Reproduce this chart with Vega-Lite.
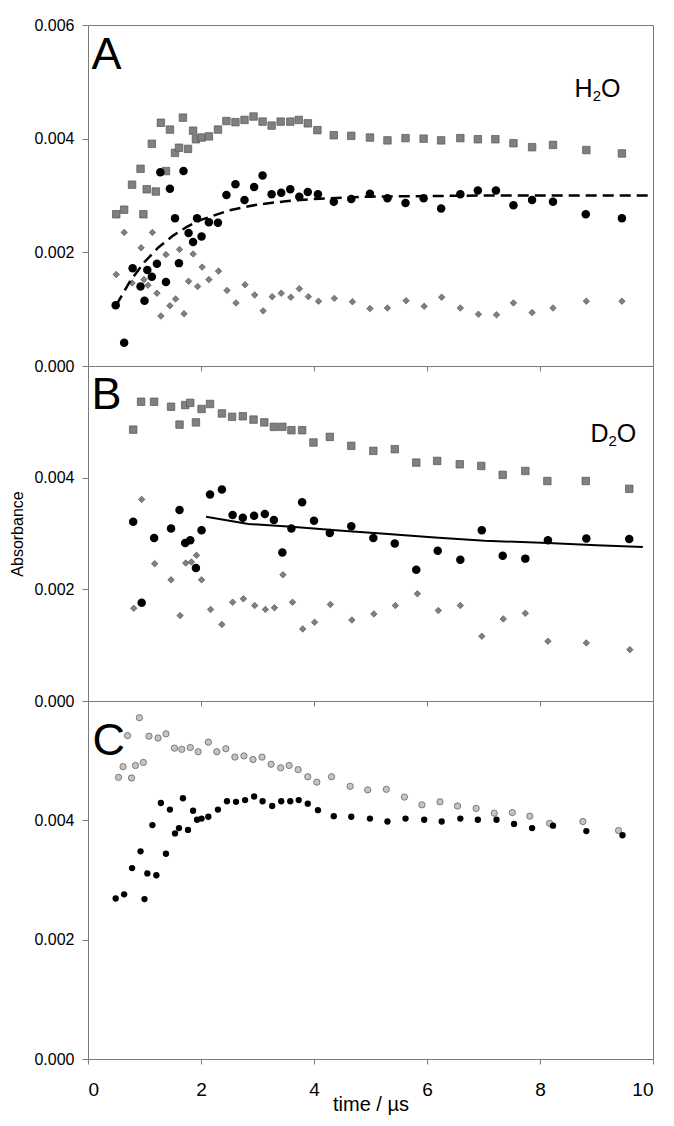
{
  "$schema": "https://vega.github.io/schema/vega-lite/v6.json",
  "padding": {"left": 9, "top": 16, "right": 20, "bottom": 4},
  "spacing": 0,
  "bounds": "flush",
  "config": {
    "font": "Liberation Sans",
    "view": {"stroke": "#7a7a7a", "strokeWidth": 1},
    "axis": {"grid": false, "domainColor": "#7a7a7a", "tickColor": "#7a7a7a", "labelColor": "#000", "titleColor": "#000", "labelFont": "Liberation Sans", "titleFont": "Liberation Sans", "titleFontWeight": "normal"}
  },
  "datasets": {
    "A_sq": [
      {"t":0.50,"v":0.00267},{"t":0.64,"v":0.00275},{"t":0.78,"v":0.00319},{"t":0.93,"v":0.00347},{"t":0.98,"v":0.00267},{"t":1.04,"v":0.00311},{"t":1.13,"v":0.00391},{"t":1.20,"v":0.00307},{"t":1.29,"v":0.00428},{"t":1.38,"v":0.00343},{"t":1.45,"v":0.00416},{"t":1.54,"v":0.00375},{"t":1.61,"v":0.00384},{"t":1.68,"v":0.00437},{"t":1.77,"v":0.00382},{"t":1.86,"v":0.00414},{"t":1.91,"v":0.00399},{"t":2.01,"v":0.00402},{"t":2.14,"v":0.00404},{"t":2.30,"v":0.00416},{"t":2.45,"v":0.00431},{"t":2.61,"v":0.00429},{"t":2.77,"v":0.00433},{"t":2.93,"v":0.00439},{"t":3.09,"v":0.00430},{"t":3.25,"v":0.00423},{"t":3.41,"v":0.00430},{"t":3.58,"v":0.00430},{"t":3.73,"v":0.00433},{"t":3.89,"v":0.00427},{"t":4.06,"v":0.00415},{"t":4.35,"v":0.00406},{"t":4.66,"v":0.00405},{"t":4.99,"v":0.00402},{"t":5.30,"v":0.00397},{"t":5.62,"v":0.00401},{"t":5.94,"v":0.00400},{"t":6.25,"v":0.00397},{"t":6.59,"v":0.00401},{"t":6.90,"v":0.00399},{"t":7.21,"v":0.00399},{"t":7.53,"v":0.00392},{"t":7.86,"v":0.00385},{"t":8.23,"v":0.00389},{"t":8.82,"v":0.00380},{"t":9.45,"v":0.00374}
    ],
    "A_ci": [
      {"t":0.49,"v":0.00107},{"t":0.64,"v":0.00041},{"t":0.79,"v":0.00172},{"t":0.93,"v":0.00140},{"t":1.00,"v":0.00115},{"t":1.05,"v":0.00169},{"t":1.13,"v":0.00157},{"t":1.22,"v":0.00180},{"t":1.28,"v":0.00341},{"t":1.38,"v":0.00148},{"t":1.45,"v":0.00312},{"t":1.54,"v":0.00260},{"t":1.61,"v":0.00181},{"t":1.69,"v":0.00343},{"t":1.78,"v":0.00234},{"t":1.86,"v":0.00218},{"t":1.93,"v":0.00260},{"t":2.01,"v":0.00228},{"t":2.14,"v":0.00253},{"t":2.30,"v":0.00252},{"t":2.45,"v":0.00301},{"t":2.61,"v":0.00320},{"t":2.77,"v":0.00292},{"t":2.94,"v":0.00315},{"t":3.09,"v":0.00335},{"t":3.25,"v":0.00302},{"t":3.42,"v":0.00305},{"t":3.58,"v":0.00311},{"t":3.74,"v":0.00298},{"t":3.89,"v":0.00306},{"t":4.07,"v":0.00302},{"t":4.35,"v":0.00289},{"t":4.66,"v":0.00294},{"t":4.99,"v":0.00303},{"t":5.30,"v":0.00295},{"t":5.62,"v":0.00287},{"t":5.94,"v":0.00295},{"t":6.25,"v":0.00277},{"t":6.59,"v":0.00302},{"t":6.90,"v":0.00309},{"t":7.22,"v":0.00309},{"t":7.53,"v":0.00283},{"t":7.86,"v":0.00292},{"t":8.23,"v":0.00289},{"t":8.81,"v":0.00267},{"t":9.45,"v":0.00260}
    ],
    "A_di": [
      {"t":0.50,"v":0.00161},{"t":0.64,"v":0.00235},{"t":0.78,"v":0.00146},{"t":0.94,"v":0.00208},{"t":0.99,"v":0.00152},{"t":1.06,"v":0.00142},{"t":1.14,"v":0.00235},{"t":1.22,"v":0.00128},{"t":1.29,"v":0.00088},{"t":1.38,"v":0.00196},{"t":1.45,"v":0.00106},{"t":1.55,"v":0.00118},{"t":1.62,"v":0.00205},{"t":1.70,"v":0.00092},{"t":1.78,"v":0.00149},{"t":1.86,"v":0.00197},{"t":1.94,"v":0.00140},{"t":2.02,"v":0.00174},{"t":2.14,"v":0.00152},{"t":2.31,"v":0.00167},{"t":2.46,"v":0.00133},{"t":2.62,"v":0.00111},{"t":2.78,"v":0.00143},{"t":2.95,"v":0.00125},{"t":3.10,"v":0.00097},{"t":3.26,"v":0.00122},{"t":3.42,"v":0.00128},{"t":3.59,"v":0.00121},{"t":3.74,"v":0.00136},{"t":3.90,"v":0.00122},{"t":4.08,"v":0.00114},{"t":4.36,"v":0.00119},{"t":4.68,"v":0.00113},{"t":4.99,"v":0.00101},{"t":5.30,"v":0.00102},{"t":5.63,"v":0.00115},{"t":5.95,"v":0.00105},{"t":6.26,"v":0.00121},{"t":6.59,"v":0.00102},{"t":6.91,"v":0.00091},{"t":7.23,"v":0.00090},{"t":7.53,"v":0.00111},{"t":7.86,"v":0.00094},{"t":8.23,"v":0.00102},{"t":8.82,"v":0.00114},{"t":9.45,"v":0.00114}
    ],
    "A_fit": [
      {"t":0.5,"v":0.00107},{"t":0.75,"v":0.00150},{"t":1.0,"v":0.00183},{"t":1.25,"v":0.00209},{"t":1.5,"v":0.00229},{"t":1.75,"v":0.00245},{"t":2.0,"v":0.00257},{"t":2.5,"v":0.00274},{"t":3.0,"v":0.00284},{"t":3.5,"v":0.00290},{"t":4.0,"v":0.00294},{"t":5.0,"v":0.00298},{"t":6.0,"v":0.00299},{"t":7.0,"v":0.00300},{"t":8.0,"v":0.00300},{"t":10.0,"v":0.00300}
    ],
    "B_sq": [
      {"t":0.80,"v":0.00486},{"t":0.94,"v":0.00536},{"t":1.17,"v":0.00536},{"t":1.47,"v":0.00527},{"t":1.62,"v":0.00495},{"t":1.72,"v":0.00530},{"t":1.81,"v":0.00534},{"t":1.91,"v":0.00499},{"t":2.01,"v":0.00523},{"t":2.16,"v":0.00532},{"t":2.37,"v":0.00515},{"t":2.55,"v":0.00509},{"t":2.74,"v":0.00510},{"t":2.93,"v":0.00504},{"t":3.12,"v":0.00499},{"t":3.29,"v":0.00491},{"t":3.44,"v":0.00491},{"t":3.60,"v":0.00485},{"t":3.79,"v":0.00485},{"t":3.99,"v":0.00463},{"t":4.28,"v":0.00473},{"t":4.66,"v":0.00457},{"t":5.05,"v":0.00448},{"t":5.43,"v":0.00451},{"t":5.81,"v":0.00427},{"t":6.18,"v":0.00430},{"t":6.58,"v":0.00424},{"t":6.96,"v":0.00421},{"t":7.34,"v":0.00405},{"t":7.74,"v":0.00412},{"t":8.13,"v":0.00394},{"t":8.81,"v":0.00394},{"t":9.58,"v":0.00380}
    ],
    "B_ci": [
      {"t":0.80,"v":0.00321},{"t":0.95,"v":0.00176},{"t":1.17,"v":0.00292},{"t":1.47,"v":0.00309},{"t":1.62,"v":0.00342},{"t":1.72,"v":0.00283},{"t":1.81,"v":0.00288},{"t":1.91,"v":0.00238},{"t":2.01,"v":0.00306},{"t":2.16,"v":0.00370},{"t":2.37,"v":0.00379},{"t":2.56,"v":0.00333},{"t":2.74,"v":0.00328},{"t":2.94,"v":0.00332},{"t":3.13,"v":0.00335},{"t":3.29,"v":0.00324},{"t":3.44,"v":0.00266},{"t":3.60,"v":0.00309},{"t":3.79,"v":0.00356},{"t":4.00,"v":0.00323},{"t":4.28,"v":0.00301},{"t":4.66,"v":0.00313},{"t":5.05,"v":0.00292},{"t":5.43,"v":0.00282},{"t":5.81,"v":0.00235},{"t":6.19,"v":0.00269},{"t":6.59,"v":0.00253},{"t":6.97,"v":0.00306},{"t":7.34,"v":0.00260},{"t":7.74,"v":0.00255},{"t":8.14,"v":0.00288},{"t":8.82,"v":0.00291},{"t":9.58,"v":0.00290}
    ],
    "B_di": [
      {"t":0.81,"v":0.00166},{"t":0.95,"v":0.00361},{"t":1.18,"v":0.00246},{"t":1.47,"v":0.00217},{"t":1.63,"v":0.00153},{"t":1.73,"v":0.00247},{"t":1.83,"v":0.00249},{"t":1.92,"v":0.00261},{"t":2.01,"v":0.00217},{"t":2.17,"v":0.00164},{"t":2.37,"v":0.00137},{"t":2.56,"v":0.00177},{"t":2.75,"v":0.00183},{"t":2.95,"v":0.00171},{"t":3.14,"v":0.00164},{"t":3.30,"v":0.00167},{"t":3.45,"v":0.00226},{"t":3.62,"v":0.00177},{"t":3.80,"v":0.00129},{"t":4.01,"v":0.00141},{"t":4.29,"v":0.00173},{"t":4.67,"v":0.00145},{"t":5.06,"v":0.00156},{"t":5.44,"v":0.00171},{"t":5.83,"v":0.00192},{"t":6.20,"v":0.00162},{"t":6.59,"v":0.00171},{"t":6.97,"v":0.00116},{"t":7.35,"v":0.00147},{"t":7.74,"v":0.00157},{"t":8.14,"v":0.00107},{"t":8.82,"v":0.00104},{"t":9.59,"v":0.00092}
    ],
    "B_fit": [
      {"t":2.09,"v":0.00330},{"t":2.84,"v":0.00317},{"t":3.6,"v":0.00312},{"t":4.5,"v":0.00305},{"t":5.19,"v":0.00300},{"t":6.14,"v":0.00293},{"t":7.02,"v":0.00287},{"t":8.14,"v":0.00283},{"t":9.0,"v":0.00279},{"t":9.82,"v":0.00276}
    ],
    "C_gray": [
      {"t":0.54,"v":0.00472},{"t":0.62,"v":0.00490},{"t":0.70,"v":0.00542},{"t":0.77,"v":0.00471},{"t":0.84,"v":0.00492},{"t":0.91,"v":0.00572},{"t":0.98,"v":0.00497},{"t":1.08,"v":0.00541},{"t":1.24,"v":0.00538},{"t":1.38,"v":0.00545},{"t":1.53,"v":0.00521},{"t":1.66,"v":0.00519},{"t":1.81,"v":0.00522},{"t":1.95,"v":0.00515},{"t":2.13,"v":0.00531},{"t":2.28,"v":0.00515},{"t":2.44,"v":0.00520},{"t":2.60,"v":0.00506},{"t":2.76,"v":0.00508},{"t":2.92,"v":0.00502},{"t":3.08,"v":0.00506},{"t":3.24,"v":0.00494},{"t":3.41,"v":0.00488},{"t":3.56,"v":0.00492},{"t":3.72,"v":0.00485},{"t":3.89,"v":0.00473},{"t":4.05,"v":0.00464},{"t":4.31,"v":0.00473},{"t":4.64,"v":0.00457},{"t":4.95,"v":0.00451},{"t":5.28,"v":0.00452},{"t":5.60,"v":0.00439},{"t":5.91,"v":0.00426},{"t":6.23,"v":0.00431},{"t":6.54,"v":0.00424},{"t":6.87,"v":0.00420},{"t":7.19,"v":0.00412},{"t":7.51,"v":0.00413},{"t":7.82,"v":0.00407},{"t":8.17,"v":0.00395},{"t":8.76,"v":0.00398},{"t":9.39,"v":0.00383}
    ],
    "C_black": [
      {"t":0.49,"v":0.00269},{"t":0.64,"v":0.00276},{"t":0.78,"v":0.00320},{"t":0.93,"v":0.00348},{"t":1.00,"v":0.00268},{"t":1.05,"v":0.00311},{"t":1.14,"v":0.00392},{"t":1.21,"v":0.00308},{"t":1.29,"v":0.00429},{"t":1.38,"v":0.00344},{"t":1.45,"v":0.00418},{"t":1.54,"v":0.00378},{"t":1.61,"v":0.00387},{"t":1.68,"v":0.00437},{"t":1.77,"v":0.00384},{"t":1.86,"v":0.00416},{"t":1.93,"v":0.00401},{"t":2.01,"v":0.00403},{"t":2.13,"v":0.00406},{"t":2.30,"v":0.00418},{"t":2.46,"v":0.00432},{"t":2.62,"v":0.00431},{"t":2.78,"v":0.00434},{"t":2.94,"v":0.00440},{"t":3.09,"v":0.00432},{"t":3.26,"v":0.00424},{"t":3.42,"v":0.00432},{"t":3.58,"v":0.00432},{"t":3.73,"v":0.00434},{"t":3.89,"v":0.00428},{"t":4.07,"v":0.00417},{"t":4.35,"v":0.00407},{"t":4.66,"v":0.00406},{"t":4.99,"v":0.00403},{"t":5.30,"v":0.00398},{"t":5.62,"v":0.00403},{"t":5.95,"v":0.00401},{"t":6.26,"v":0.00398},{"t":6.59,"v":0.00403},{"t":6.90,"v":0.00401},{"t":7.23,"v":0.00401},{"t":7.54,"v":0.00394},{"t":7.86,"v":0.00387},{"t":8.23,"v":0.00391},{"t":8.82,"v":0.00382},{"t":9.46,"v":0.00375}
    ]
  },
  "vconcat": [
    {
      "width": 565, "height": 341,
      "encoding": {
        "x": {"field": "t", "type": "quantitative", "scale": {"domain": [0, 10], "nice": false}, "axis": {"values": [0,2,4,6,8,10], "labels": false, "title": null, "tickSize": 5, "domain": false}},
        "y": {"field": "v", "type": "quantitative", "scale": {"domain": [0, 0.006], "nice": false}, "axis": {"values": [0,0.002,0.004,0.006], "format": ".3f", "labelFontSize": 16, "tickSize": 6, "labelPadding": 8, "title": null, "domain": false}}
      },
      "layer": [
        {"data": {"name": "A_sq"}, "mark": {"type": "point", "shape": "square", "filled": true, "fill": "#808080", "stroke": "#555555", "strokeWidth": 0.7, "size": 56, "opacity": 1}},
        {"data": {"name": "A_di"}, "mark": {"type": "point", "shape": "diamond", "filled": true, "fill": "#808080", "stroke": "#555555", "strokeWidth": 0.7, "size": 42, "opacity": 1}},
        {"data": {"name": "A_ci"}, "mark": {"type": "point", "shape": "circle", "filled": true, "fill": "#000000", "size": 72, "opacity": 1}},
        {"data": {"name": "A_fit"}, "mark": {"type": "line", "color": "#000000", "strokeWidth": 2.5, "strokeDash": [11, 6]}, "encoding": {}},
        {"data": {"values": [{"t": 0.06, "v": 0.00523, "txt": "A"}]}, "mark": {"type": "text", "align": "left", "baseline": "alphabetic", "fontSize": 45, "color": "#000000"}, "encoding": {"text": {"field": "txt"}}},
        {"data": {"values": [{"t": 8.61, "v": 0.00474, "txt": "H"}, {"t": 9.08, "v": 0.00474, "txt": "O"}]}, "mark": {"type": "text", "align": "left", "baseline": "alphabetic", "fontSize": 25, "color": "#000000"}, "encoding": {"text": {"field": "txt"}}},
        {"data": {"values": [{"t": 8.935, "v": 0.00467, "txt": "2"}]}, "mark": {"type": "text", "align": "left", "baseline": "alphabetic", "fontSize": 15, "color": "#000000"}, "encoding": {"text": {"field": "txt"}}}
      ]
    },
    {
      "width": 565, "height": 335,
      "encoding": {
        "x": {"field": "t", "type": "quantitative", "scale": {"domain": [0, 10], "nice": false}, "axis": {"values": [0,2,4,6,8,10], "labels": false, "title": null, "tickSize": 5, "domain": false}},
        "y": {"field": "v", "type": "quantitative", "scale": {"domain": [0, 0.006], "nice": false}, "axis": {"values": [0,0.002,0.004], "format": ".3f", "labelFontSize": 16, "tickSize": 6, "labelPadding": 8, "title": "Absorbance", "titleFontSize": 16, "titlePadding": 8, "domain": false}}
      },
      "layer": [
        {"data": {"name": "B_sq"}, "mark": {"type": "point", "shape": "square", "filled": true, "fill": "#808080", "stroke": "#555555", "strokeWidth": 0.7, "size": 56, "opacity": 1}},
        {"data": {"name": "B_di"}, "mark": {"type": "point", "shape": "diamond", "filled": true, "fill": "#808080", "stroke": "#555555", "strokeWidth": 0.7, "size": 42, "opacity": 1}},
        {"data": {"name": "B_ci"}, "mark": {"type": "point", "shape": "circle", "filled": true, "fill": "#000000", "size": 72, "opacity": 1}},
        {"data": {"name": "B_fit"}, "mark": {"type": "line", "color": "#000000", "strokeWidth": 2}, "encoding": {}},
        {"data": {"values": [{"t": 0.06, "v": 0.00523, "txt": "B"}]}, "mark": {"type": "text", "align": "left", "baseline": "alphabetic", "fontSize": 45, "color": "#000000"}, "encoding": {"text": {"field": "txt"}}},
        {"data": {"values": [{"t": 8.894, "v": 0.00464, "txt": "D"}, {"t": 9.36, "v": 0.00464, "txt": "O"}]}, "mark": {"type": "text", "align": "left", "baseline": "alphabetic", "fontSize": 25, "color": "#000000"}, "encoding": {"text": {"field": "txt"}}},
        {"data": {"values": [{"t": 9.212, "v": 0.00456, "txt": "2"}]}, "mark": {"type": "text", "align": "left", "baseline": "alphabetic", "fontSize": 15, "color": "#000000"}, "encoding": {"text": {"field": "txt"}}}
      ]
    },
    {
      "width": 565, "height": 358,
      "encoding": {
        "x": {"field": "t", "type": "quantitative", "scale": {"domain": [0, 10], "nice": false}, "axis": {"values": [0,2,4,6,8,10], "format": "d", "labelFontSize": 19, "tickSize": 5, "labelPadding": 16, "title": "time / µs", "titleFontSize": 20, "titlePadding": -5, "domain": false}},
        "y": {"field": "v", "type": "quantitative", "scale": {"domain": [0, 0.006], "nice": false}, "axis": {"values": [0,0.002,0.004], "format": ".3f", "labelFontSize": 16, "tickSize": 6, "labelPadding": 8, "title": null, "domain": false}}
      },
      "layer": [
        {"data": {"name": "C_gray"}, "mark": {"type": "point", "shape": "circle", "filled": true, "fill": "#c4c4c4", "stroke": "#555555", "strokeWidth": 0.7, "size": 40, "opacity": 1}},
        {"data": {"name": "C_black"}, "mark": {"type": "point", "shape": "circle", "filled": true, "fill": "#000000", "size": 40, "opacity": 1}},
        {"data": {"values": [{"t": 0.08, "v": 0.0051, "txt": "C"}]}, "mark": {"type": "text", "align": "left", "baseline": "alphabetic", "fontSize": 45, "color": "#000000"}, "encoding": {"text": {"field": "txt"}}}
      ]
    }
  ]
}
